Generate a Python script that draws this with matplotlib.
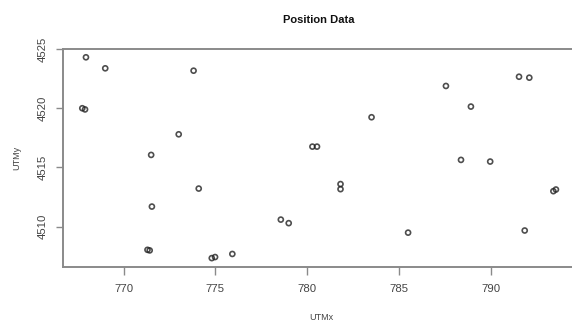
import matplotlib
matplotlib.use("Agg")
import matplotlib.pyplot as plt

plt.rcParams['font.family'] = ['Liberation Sans', 'DejaVu Sans']

utm_x = [767.95, 769.0, 767.75, 767.9, 773.0, 771.5, 771.54, 771.3, 771.42,
         773.81, 774.09, 774.8, 774.98, 775.92, 778.56, 778.99, 780.28, 780.53,
         783.5, 781.81, 781.81, 785.49, 787.55, 788.91, 791.53, 792.09, 788.37,
         789.96, 793.4, 793.54, 791.84]
utm_y = [4524.3, 4523.37, 4520.0, 4519.9, 4517.8, 4516.06, 4511.7, 4508.05, 4508.0,
         4523.17, 4513.22, 4507.35, 4507.44, 4507.7, 4510.6, 4510.3, 4516.76, 4516.76,
         4519.24, 4513.6, 4513.17, 4509.5, 4521.88, 4520.14, 4522.66, 4522.58, 4515.64,
         4515.5, 4513.0, 4513.14, 4509.68]

x_ticks = [770, 775, 780, 785, 790]
y_ticks = [4510, 4515, 4520, 4525]

W, H = 572, 322
fig = plt.figure(figsize=(W / 100, H / 100), dpi=100)
ax = fig.add_axes([63 / W, 55 / H, 517 / W, 218 / H])

ax.scatter(utm_x, utm_y, s=13, facecolors='none', edgecolors='#222222',
           linewidths=1.2, alpha=0.8, zorder=3)

ax.set_xlim(766.7, 794.85)
ax.set_ylim(4506.6, 4525.0)
ax.set_xticks(x_ticks)
ax.set_yticks(y_ticks)
ax.set_xticklabels([str(v) for v in x_ticks])
ax.set_yticklabels([str(v) for v in y_ticks], rotation=90, va='center')

for sp in ax.spines.values():
    sp.set_color('#8a8a8a')
    sp.set_linewidth(1.4)

ax.tick_params(axis='both', direction='out', color='#8a8a8a', width=1.0,
               labelsize=8.2, labelcolor='#444444')
ax.tick_params(axis='x', length=6, pad=6)
ax.tick_params(axis='y', length=5, pad=6)

ax.set_xlabel('UTMx', fontsize=6.5, color='#444444', labelpad=14)
ax.set_ylabel('UTMy', fontsize=6.5, color='#444444', labelpad=12)
fig.text(319 / W, 1 - 20 / H, 'Position Data', ha='center', va='center',
         fontsize=8, fontweight='bold', color='#111111')

fig.savefig('out.png', dpi=100)
